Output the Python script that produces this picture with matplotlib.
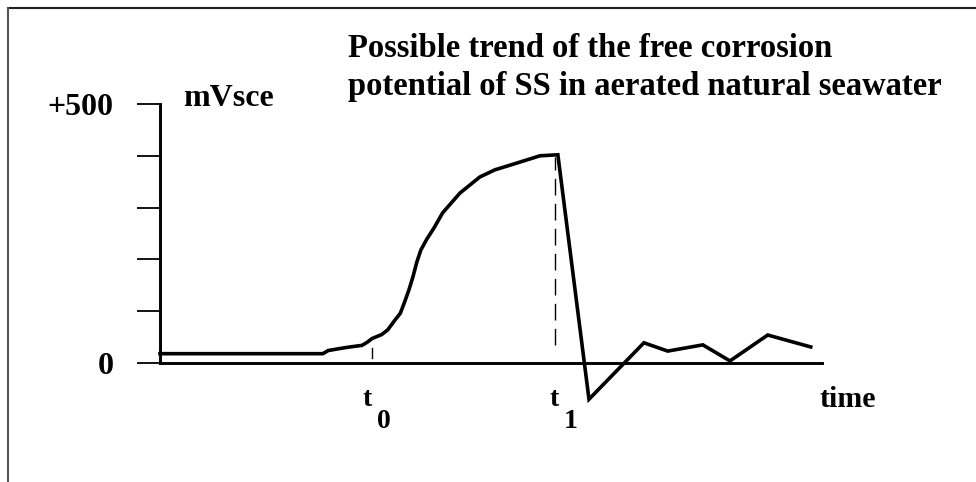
import matplotlib
matplotlib.use("Agg")
import matplotlib.pyplot as plt
from matplotlib.lines import Line2D

plt.rcParams['font.family'] = ['Liberation Serif', 'DejaVu Serif']
plt.rcParams['font.weight'] = 'bold'

# time in arbitrary units (axis 0..100), potential in mV vs SCE
time = [0.0, 24.6, 25.4, 27.2, 28.7, 30.5, 31.3, 32.0, 33.5, 34.4, 35.5, 36.3,
        36.9, 37.6, 38.2, 38.8, 39.4, 40.3, 41.4, 42.7, 45.3, 48.3, 50.6, 52.4,
        54.4, 57.4, 60.1, 64.8, 73.1, 76.7, 82.0, 86.1, 91.8, 98.3]
potential = [18, 18, 24, 28, 31, 34, 40, 47, 55, 64, 83, 96,
             116, 141, 166, 195, 218, 239, 261, 290, 328, 359, 373, 380,
             388, 400, 402, -70, 39, 23, 35, 4, 54, 31]

t0 = 32.0
t1 = 59.7
ytick_values = [0, 100, 200, 300, 400, 500]
ytick_labels = ['0', '', '', '', '', '+500']

title_lines = ['Possible trend of the free corrosion',
               'potential of SS in aerated natural seawater']

W, H = 976, 482
fig = plt.figure(figsize=(W / 100, H / 100), dpi=100)
ax = fig.add_axes([160 / W, (H - 363) / H, 662 / W, 259 / H])
ax.set_xlim(0, 100)
ax.set_ylim(0, 500)

ax.plot(time, potential, color='black', lw=2.6, clip_on=False,
        solid_joinstyle='miter')

# dashed marker at t1 and small tick at t0
ax.plot([t1, t1], [35, 398], color='black', lw=1.0, ls=(0, (12, 6)), clip_on=False)
ax.plot([t0, t0], [10, 29], color='black', lw=1.0, clip_on=False)

for s in ['top', 'right']:
    ax.spines[s].set_visible(False)
for s in ['left', 'bottom']:
    ax.spines[s].set_linewidth(2.1)
    ax.spines[s].set_color('black')

ax.set_xticks([])
ax.set_yticks(ytick_values)
ax.set_yticklabels(ytick_labels)
ax.tick_params(axis='y', direction='out', length=16.6, width=1.3, pad=17,
               labelsize=23, colors='black')

fs = 23.5
ax.annotate('mVsce', xy=(0, 500), xytext=(16.5, -1.4), textcoords='offset points',
            ha='left', va='baseline', fontsize=23, fontweight='bold')
ax.annotate('time', xy=(100, 0), xytext=(-2, -31.5), textcoords='offset points',
            ha='left', va='baseline', fontsize=21.5, fontweight='bold')

for tv, sub, dx_t, dx_s in [(t0, '0', 0.0, 3.6), (t1, '1', 2.2, 5.8)]:
    ax.annotate('t', xy=(tv, 0), xytext=(dx_t, -31), textcoords='offset points',
                ha='right', va='baseline', fontsize=20, fontweight='bold')
    ax.annotate(sub, xy=(tv, 0), xytext=(dx_s, -47), textcoords='offset points',
                ha='left', va='baseline', fontsize=20, fontweight='bold')

fig.text(348 / W, (H - 57) / H, title_lines[0], ha='left', va='baseline',
         fontsize=fs, fontweight='bold')
fig.text(348 / W, (H - 95) / H, title_lines[1], ha='left', va='baseline',
         fontsize=fs, fontweight='bold')

# picture frame: top and left edges
fig.add_artist(Line2D([8 / W, 1], [(H - 8) / H, (H - 8) / H], transform=fig.transFigure,
                      color='#222222', lw=1.5))
fig.add_artist(Line2D([8 / W, 8 / W], [0, (H - 8) / H], transform=fig.transFigure,
                      color='#555555', lw=1.5))

fig.savefig('out.png', dpi=100)
